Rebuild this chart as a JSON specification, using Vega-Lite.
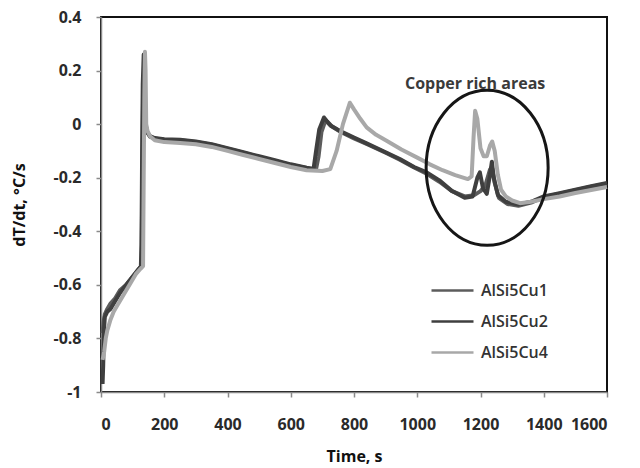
{
  "$schema": "https://vega.github.io/schema/vega-lite/v6.json",
  "width": 506,
  "height": 375,
  "autosize": {"type": "none"},
  "padding": {"left": 101, "top": 17, "right": 33, "bottom": 76},
  "background": "white",
  "config": {
    "view": {"stroke": "#111", "strokeWidth": 2},
    "font": "Open Sans",
    "axis": {
      "grid": false,
      "domainColor": "#8a8a8a",
      "domainWidth": 1.5,
      "tickColor": "#8a8a8a",
      "tickWidth": 1.5,
      "tickSize": 5,
      "labelFont": "Open Sans",
      "labelFontSize": 16,
      "labelFontWeight": "bold",
      "labelColor": "#2a2a2a",
      "titleFont": "Open Sans",
      "titleFontSize": 16,
      "titleFontWeight": "bold",
      "titleColor": "#111",
      "zindex": 1
    }
  },
  "layer": [
    {
      "data": {"values": [
        {"t":5,"v":-0.78,"s":"AlSi5Cu1"},{"t":8,"v":-0.74,"s":"AlSi5Cu1"},{"t":12,"v":-0.71,"s":"AlSi5Cu1"},{"t":20,"v":-0.69,"s":"AlSi5Cu1"},{"t":30,"v":-0.67,"s":"AlSi5Cu1"},{"t":45,"v":-0.65,"s":"AlSi5Cu1"},{"t":60,"v":-0.62,"s":"AlSi5Cu1"},{"t":80,"v":-0.6,"s":"AlSi5Cu1"},{"t":100,"v":-0.57,"s":"AlSi5Cu1"},{"t":120,"v":-0.54,"s":"AlSi5Cu1"},{"t":128,"v":-0.53,"s":"AlSi5Cu1"},{"t":130,"v":-0.3,"s":"AlSi5Cu1"},{"t":133,"v":0.1,"s":"AlSi5Cu1"},{"t":136,"v":0.2,"s":"AlSi5Cu1"},{"t":139,"v":0.05,"s":"AlSi5Cu1"},{"t":142,"v":-0.01,"s":"AlSi5Cu1"},{"t":147,"v":-0.032,"s":"AlSi5Cu1"},{"t":155,"v":-0.047,"s":"AlSi5Cu1"},{"t":170,"v":-0.054,"s":"AlSi5Cu1"},{"t":200,"v":-0.058,"s":"AlSi5Cu1"},{"t":250,"v":-0.06,"s":"AlSi5Cu1"},{"t":300,"v":-0.067,"s":"AlSi5Cu1"},{"t":350,"v":-0.077,"s":"AlSi5Cu1"},{"t":400,"v":-0.092,"s":"AlSi5Cu1"},{"t":450,"v":-0.107,"s":"AlSi5Cu1"},{"t":500,"v":-0.122,"s":"AlSi5Cu1"},{"t":550,"v":-0.137,"s":"AlSi5Cu1"},{"t":600,"v":-0.152,"s":"AlSi5Cu1"},{"t":650,"v":-0.164,"s":"AlSi5Cu1"},{"t":680,"v":-0.168,"s":"AlSi5Cu1"},{"t":688,"v":-0.12,"s":"AlSi5Cu1"},{"t":697,"v":-0.03,"s":"AlSi5Cu1"},{"t":710,"v":0.015,"s":"AlSi5Cu1"},{"t":725,"v":-0.005,"s":"AlSi5Cu1"},{"t":760,"v":-0.03,"s":"AlSi5Cu1"},{"t":800,"v":-0.053,"s":"AlSi5Cu1"},{"t":840,"v":-0.074,"s":"AlSi5Cu1"},{"t":900,"v":-0.107,"s":"AlSi5Cu1"},{"t":945,"v":-0.133,"s":"AlSi5Cu1"},{"t":990,"v":-0.162,"s":"AlSi5Cu1"},{"t":1030,"v":-0.185,"s":"AlSi5Cu1"},{"t":1070,"v":-0.215,"s":"AlSi5Cu1"},{"t":1110,"v":-0.25,"s":"AlSi5Cu1"},{"t":1150,"v":-0.27,"s":"AlSi5Cu1"},{"t":1180,"v":-0.265,"s":"AlSi5Cu1"},{"t":1200,"v":-0.25,"s":"AlSi5Cu1"},{"t":1215,"v":-0.23,"s":"AlSi5Cu1"},{"t":1230,"v":-0.17,"s":"AlSi5Cu1"},{"t":1236,"v":-0.16,"s":"AlSi5Cu1"},{"t":1245,"v":-0.22,"s":"AlSi5Cu1"},{"t":1258,"v":-0.275,"s":"AlSi5Cu1"},{"t":1285,"v":-0.298,"s":"AlSi5Cu1"},{"t":1320,"v":-0.305,"s":"AlSi5Cu1"},{"t":1360,"v":-0.293,"s":"AlSi5Cu1"},{"t":1400,"v":-0.272,"s":"AlSi5Cu1"},{"t":1450,"v":-0.26,"s":"AlSi5Cu1"},{"t":1500,"v":-0.247,"s":"AlSi5Cu1"},{"t":1550,"v":-0.234,"s":"AlSi5Cu1"},{"t":1600,"v":-0.222,"s":"AlSi5Cu1"},

        {"t":5,"v":-0.97,"s":"AlSi5Cu2"},{"t":7,"v":-0.9,"s":"AlSi5Cu2"},{"t":9,"v":-0.78,"s":"AlSi5Cu2"},{"t":12,"v":-0.72,"s":"AlSi5Cu2"},{"t":20,"v":-0.7,"s":"AlSi5Cu2"},{"t":30,"v":-0.69,"s":"AlSi5Cu2"},{"t":45,"v":-0.66,"s":"AlSi5Cu2"},{"t":60,"v":-0.63,"s":"AlSi5Cu2"},{"t":80,"v":-0.6,"s":"AlSi5Cu2"},{"t":100,"v":-0.57,"s":"AlSi5Cu2"},{"t":120,"v":-0.54,"s":"AlSi5Cu2"},{"t":126,"v":-0.53,"s":"AlSi5Cu2"},{"t":128,"v":-0.45,"s":"AlSi5Cu2"},{"t":130,"v":-0.1,"s":"AlSi5Cu2"},{"t":132,"v":0.15,"s":"AlSi5Cu2"},{"t":135,"v":0.26,"s":"AlSi5Cu2"},{"t":138,"v":0.1,"s":"AlSi5Cu2"},{"t":141,"v":0.0,"s":"AlSi5Cu2"},{"t":146,"v":-0.03,"s":"AlSi5Cu2"},{"t":155,"v":-0.045,"s":"AlSi5Cu2"},{"t":170,"v":-0.052,"s":"AlSi5Cu2"},{"t":200,"v":-0.056,"s":"AlSi5Cu2"},{"t":250,"v":-0.058,"s":"AlSi5Cu2"},{"t":300,"v":-0.065,"s":"AlSi5Cu2"},{"t":350,"v":-0.075,"s":"AlSi5Cu2"},{"t":400,"v":-0.09,"s":"AlSi5Cu2"},{"t":450,"v":-0.105,"s":"AlSi5Cu2"},{"t":500,"v":-0.12,"s":"AlSi5Cu2"},{"t":550,"v":-0.135,"s":"AlSi5Cu2"},{"t":600,"v":-0.15,"s":"AlSi5Cu2"},{"t":650,"v":-0.163,"s":"AlSi5Cu2"},{"t":672,"v":-0.168,"s":"AlSi5Cu2"},{"t":680,"v":-0.1,"s":"AlSi5Cu2"},{"t":690,"v":-0.02,"s":"AlSi5Cu2"},{"t":705,"v":0.025,"s":"AlSi5Cu2"},{"t":715,"v":0.01,"s":"AlSi5Cu2"},{"t":730,"v":-0.008,"s":"AlSi5Cu2"},{"t":760,"v":-0.028,"s":"AlSi5Cu2"},{"t":800,"v":-0.05,"s":"AlSi5Cu2"},{"t":840,"v":-0.072,"s":"AlSi5Cu2"},{"t":900,"v":-0.105,"s":"AlSi5Cu2"},{"t":945,"v":-0.13,"s":"AlSi5Cu2"},{"t":990,"v":-0.16,"s":"AlSi5Cu2"},{"t":1030,"v":-0.18,"s":"AlSi5Cu2"},{"t":1070,"v":-0.21,"s":"AlSi5Cu2"},{"t":1110,"v":-0.25,"s":"AlSi5Cu2"},{"t":1150,"v":-0.275,"s":"AlSi5Cu2"},{"t":1175,"v":-0.27,"s":"AlSi5Cu2"},{"t":1190,"v":-0.2,"s":"AlSi5Cu2"},{"t":1198,"v":-0.18,"s":"AlSi5Cu2"},{"t":1208,"v":-0.24,"s":"AlSi5Cu2"},{"t":1220,"v":-0.26,"s":"AlSi5Cu2"},{"t":1230,"v":-0.19,"s":"AlSi5Cu2"},{"t":1236,"v":-0.14,"s":"AlSi5Cu2"},{"t":1242,"v":-0.2,"s":"AlSi5Cu2"},{"t":1255,"v":-0.265,"s":"AlSi5Cu2"},{"t":1280,"v":-0.29,"s":"AlSi5Cu2"},{"t":1320,"v":-0.3,"s":"AlSi5Cu2"},{"t":1360,"v":-0.29,"s":"AlSi5Cu2"},{"t":1400,"v":-0.27,"s":"AlSi5Cu2"},{"t":1450,"v":-0.258,"s":"AlSi5Cu2"},{"t":1500,"v":-0.245,"s":"AlSi5Cu2"},{"t":1550,"v":-0.232,"s":"AlSi5Cu2"},{"t":1600,"v":-0.22,"s":"AlSi5Cu2"},

        {"t":5,"v":-0.88,"s":"AlSi5Cu4"},{"t":10,"v":-0.85,"s":"AlSi5Cu4"},{"t":15,"v":-0.8,"s":"AlSi5Cu4"},{"t":20,"v":-0.77,"s":"AlSi5Cu4"},{"t":30,"v":-0.73,"s":"AlSi5Cu4"},{"t":40,"v":-0.7,"s":"AlSi5Cu4"},{"t":50,"v":-0.68,"s":"AlSi5Cu4"},{"t":65,"v":-0.65,"s":"AlSi5Cu4"},{"t":80,"v":-0.62,"s":"AlSi5Cu4"},{"t":95,"v":-0.59,"s":"AlSi5Cu4"},{"t":110,"v":-0.56,"s":"AlSi5Cu4"},{"t":125,"v":-0.54,"s":"AlSi5Cu4"},{"t":133,"v":-0.53,"s":"AlSi5Cu4"},{"t":135,"v":-0.2,"s":"AlSi5Cu4"},{"t":137,"v":0.1,"s":"AlSi5Cu4"},{"t":139,"v":0.27,"s":"AlSi5Cu4"},{"t":141,"v":0.2,"s":"AlSi5Cu4"},{"t":143,"v":0.0,"s":"AlSi5Cu4"},{"t":147,"v":-0.025,"s":"AlSi5Cu4"},{"t":155,"v":-0.045,"s":"AlSi5Cu4"},{"t":170,"v":-0.06,"s":"AlSi5Cu4"},{"t":200,"v":-0.067,"s":"AlSi5Cu4"},{"t":250,"v":-0.07,"s":"AlSi5Cu4"},{"t":300,"v":-0.075,"s":"AlSi5Cu4"},{"t":350,"v":-0.085,"s":"AlSi5Cu4"},{"t":400,"v":-0.1,"s":"AlSi5Cu4"},{"t":450,"v":-0.115,"s":"AlSi5Cu4"},{"t":500,"v":-0.13,"s":"AlSi5Cu4"},{"t":550,"v":-0.145,"s":"AlSi5Cu4"},{"t":600,"v":-0.16,"s":"AlSi5Cu4"},{"t":650,"v":-0.172,"s":"AlSi5Cu4"},{"t":700,"v":-0.175,"s":"AlSi5Cu4"},{"t":725,"v":-0.168,"s":"AlSi5Cu4"},{"t":745,"v":-0.1,"s":"AlSi5Cu4"},{"t":765,"v":0.0,"s":"AlSi5Cu4"},{"t":787,"v":0.08,"s":"AlSi5Cu4"},{"t":800,"v":0.055,"s":"AlSi5Cu4"},{"t":820,"v":0.02,"s":"AlSi5Cu4"},{"t":840,"v":-0.012,"s":"AlSi5Cu4"},{"t":870,"v":-0.04,"s":"AlSi5Cu4"},{"t":903,"v":-0.062,"s":"AlSi5Cu4"},{"t":950,"v":-0.095,"s":"AlSi5Cu4"},{"t":1000,"v":-0.125,"s":"AlSi5Cu4"},{"t":1040,"v":-0.15,"s":"AlSi5Cu4"},{"t":1080,"v":-0.172,"s":"AlSi5Cu4"},{"t":1120,"v":-0.19,"s":"AlSi5Cu4"},{"t":1160,"v":-0.205,"s":"AlSi5Cu4"},{"t":1172,"v":-0.195,"s":"AlSi5Cu4"},{"t":1178,"v":-0.05,"s":"AlSi5Cu4"},{"t":1183,"v":0.05,"s":"AlSi5Cu4"},{"t":1190,"v":0.02,"s":"AlSi5Cu4"},{"t":1200,"v":-0.09,"s":"AlSi5Cu4"},{"t":1210,"v":-0.12,"s":"AlSi5Cu4"},{"t":1220,"v":-0.12,"s":"AlSi5Cu4"},{"t":1230,"v":-0.08,"s":"AlSi5Cu4"},{"t":1237,"v":-0.065,"s":"AlSi5Cu4"},{"t":1245,"v":-0.1,"s":"AlSi5Cu4"},{"t":1255,"v":-0.19,"s":"AlSi5Cu4"},{"t":1265,"v":-0.245,"s":"AlSi5Cu4"},{"t":1280,"v":-0.27,"s":"AlSi5Cu4"},{"t":1300,"v":-0.285,"s":"AlSi5Cu4"},{"t":1325,"v":-0.295,"s":"AlSi5Cu4"},{"t":1360,"v":-0.29,"s":"AlSi5Cu4"},{"t":1400,"v":-0.28,"s":"AlSi5Cu4"},{"t":1450,"v":-0.27,"s":"AlSi5Cu4"},{"t":1500,"v":-0.257,"s":"AlSi5Cu4"},{"t":1550,"v":-0.246,"s":"AlSi5Cu4"},{"t":1600,"v":-0.235,"s":"AlSi5Cu4"}
      ]},
      "mark": {"type": "line", "strokeWidth": 4, "strokeJoin": "round"},
      "encoding": {
        "x": {
          "field": "t", "type": "quantitative",
          "scale": {"domain": [0, 1600], "nice": false},
          "axis": {"values": [0,200,400,600,800,1000,1200,1400,1600], "format": "d", "title": "Time, s", "labelPadding": 19, "titlePadding": 16}
        },
        "y": {
          "field": "v", "type": "quantitative",
          "scale": {"domain": [-1, 0.4], "nice": false},
          "axis": {
            "values": [-1,-0.8,-0.6,-0.4,-0.2,0,0.2,0.4],
            "labelExpr": "replace(format(datum.value, '~g'), '\u2212', '-')",
            "title": "dT/dt, °C/s", "labelPadding": 15, "titlePadding": 25
          }
        },
        "color": {
          "field": "s", "type": "nominal",
          "scale": {"domain": ["AlSi5Cu1","AlSi5Cu2","AlSi5Cu4"], "range": ["#5c5c5c","#3f3f3f","#a8a8a8"]},
          "legend": {
            "title": null,
            "orient": "none",
            "legendX": 329,
            "legendY": 251,
            "symbolType": "stroke",
            "symbolSize": 1764,
            "symbolStrokeWidth": 2.5,
            "labelFont": "Open Sans",
            "labelFontSize": 16,
            "labelFontWeight": 600,
            "labelColor": "#333",
            "labelOffset": 6,
            "rowPadding": -5
          }
        }
      }
    },
    {
      "data": {"values": [{"t": 1221, "v": -0.163}]},
      "mark": {
        "type": "point",
        "shape": "M 0 -1.27 C 0.5523 -1.27 1 -0.701 1 0 C 1 0.701 0.5523 1.27 0 1.27 C -0.5523 1.27 -1 0.701 -1 0 C -1 -0.701 -0.5523 -1.27 0 -1.27 Z",
        "size": 14884,
        "filled": false,
        "stroke": "#161616",
        "strokeWidth": 3,
        "opacity": 1
      },
      "encoding": {
        "x": {"field": "t", "type": "quantitative"},
        "y": {"field": "v", "type": "quantitative"}
      }
    },
    {
      "data": {"values": [{"t": 1183, "v": 0.15, "label": "Copper rich areas"}]},
      "mark": {"type": "text", "font": "Open Sans", "fontSize": 16, "fontWeight": "bold", "color": "#3a3a3a"},
      "encoding": {
        "x": {"field": "t", "type": "quantitative"},
        "y": {"field": "v", "type": "quantitative"},
        "text": {"field": "label"}
      }
    }
  ]
}
